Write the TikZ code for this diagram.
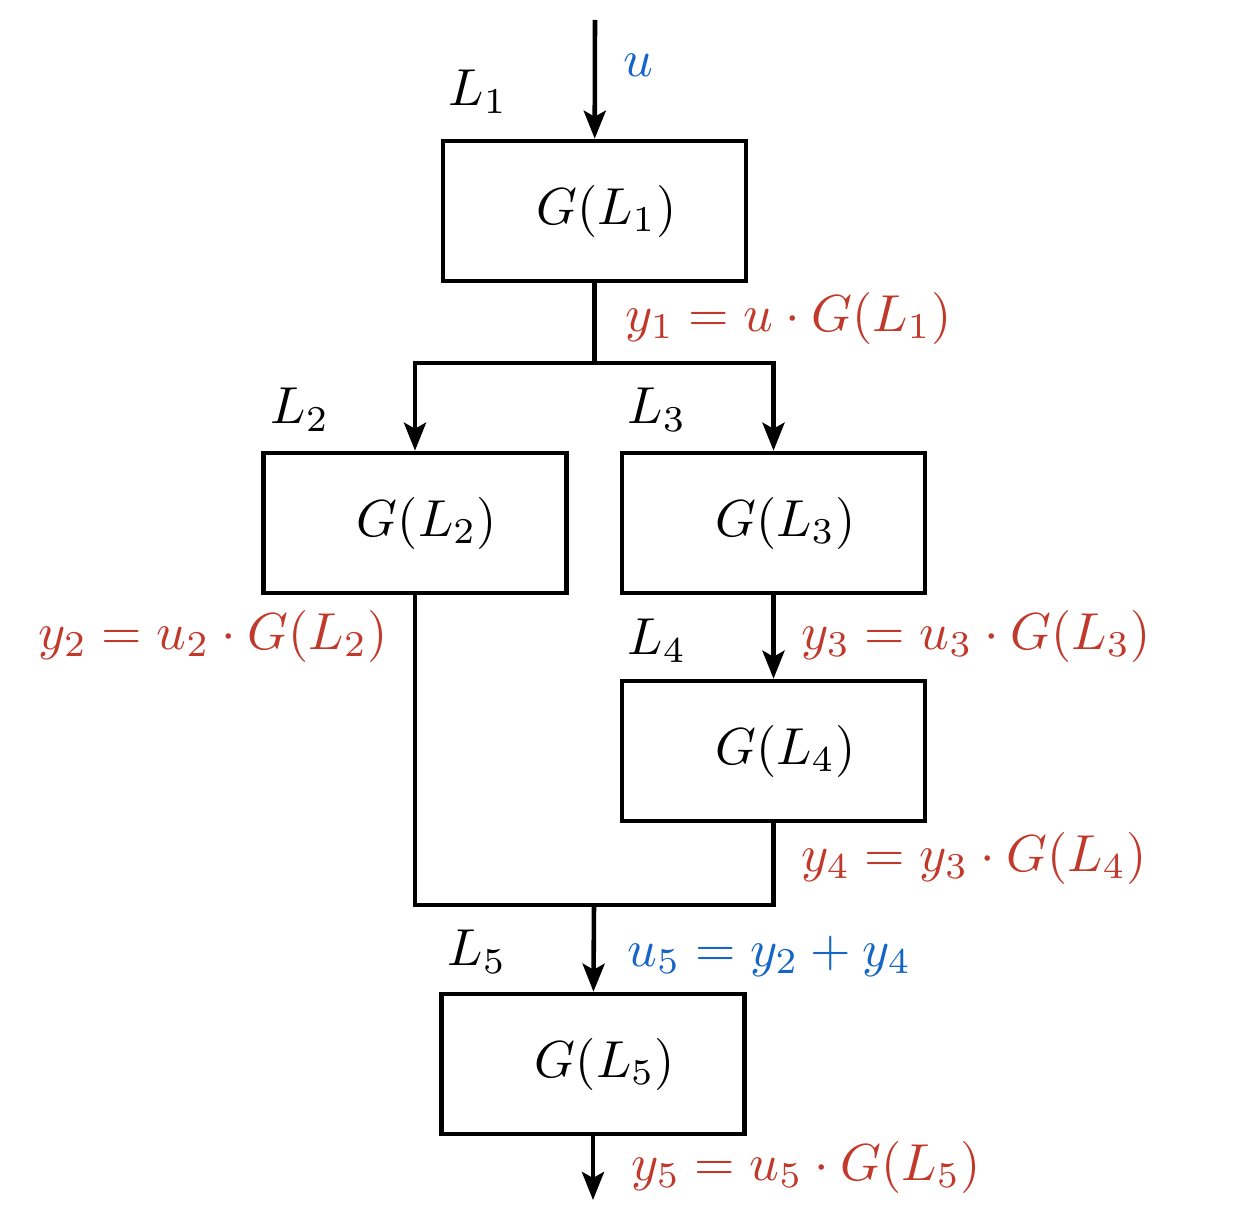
\documentclass[tikz,border=0pt]{standalone}
\usepackage{graphicx}
\usetikzlibrary{arrows.meta}
\definecolor{outred}{RGB}{192,57,43}
\definecolor{inblue}{RGB}{21,101,200}
\newcommand{\bigmath}[1]{\scalebox{1.48}{$#1$}}
\tikzset{
  block/.style={draw, line width=1.3pt, minimum width=3.03cm, minimum height=1.4cm,
    execute at begin node=\hspace*{2.4mm}},
  lbl/.style={inner sep=0pt},
  sig/.style={inner sep=0pt, anchor=west},
}
\begin{document}
\begin{tikzpicture}
      \useasboundingbox (0,0) rectangle (12.44,-12.24);
      \draw
        (5.95,-0.20) coordinate (in)
        (5.945,-2.11) node[block] (b1){\bigmath{G(L_1)}}
        (5.945,-3.63) coordinate (split)
        (4.15,-5.23) node[block] (b2){\bigmath{G(L_2)}}
        (7.735,-5.23) node[block] (b3){\bigmath{G(L_3)}}
        (7.735,-7.51) node[block] (b4){\bigmath{G(L_4)}}
        (5.94,-9.05) coordinate (join)
        (5.93,-10.64) node[block] (b5){\bigmath{G(L_5)}}
        (5.93,-12.00) coordinate (out);
      % block labels
      \node[lbl] (l1) at (4.78,-0.92) {\bigmath{L_1}};
      \node[lbl] (l2) at (3.00,-4.10) {\bigmath{L_2}};
      \node[lbl] (l3) at (6.57,-4.10) {\bigmath{L_3}};
      \node[lbl] (l4) at (6.57,-6.41) {\bigmath{L_4}};
      \node[lbl] (l5) at (4.77,-9.52) {\bigmath{L_5}};
      % signals
      \node[lbl, text=inblue] (u) at (6.38,-0.65) {\bigmath{u}};
      \node[sig, text=outred] (y1) at (6.25,-3.18) {\bigmath{y_1 = u\cdot G(L_1)}};
      \node[sig, text=outred] (y2) at (0.38,-6.36) {\bigmath{y_2 = u_2\cdot G(L_2)}};
      \node[sig, text=outred] (y3) at (8.01,-6.36) {\bigmath{y_3 = u_3\cdot G(L_3)}};
      \node[sig, text=outred] (y4) at (8.01,-8.58) {\bigmath{y_4 = y_3\cdot G(L_4)}};
      \node[sig, text=inblue] (u5) at (6.27,-9.56) {\bigmath{u_5 = y_2 + y_4}};
      \node[sig, text=outred] (y5) at (6.31,-11.67) {\bigmath{y_5 = u_5\cdot G(L_5)}};
      \begin{scope}[line width=1.3pt, -{Stealth[length=2.8mm, width=2.2mm, inset=0.6mm]}]
        \draw (in) to (b1);
        \draw (b1) -- (split) -| (b2);
        \draw (split) -| (b3);
        \draw (b3) to (b4);
        \draw (join) to (b5);
        \draw (b5) to (out);
      \end{scope}
      \begin{scope}[line width=1.3pt, -]
        \draw (b2.south) |- (join) -| (b4.south);
      \end{scope}
    \end{tikzpicture}
\end{document}
